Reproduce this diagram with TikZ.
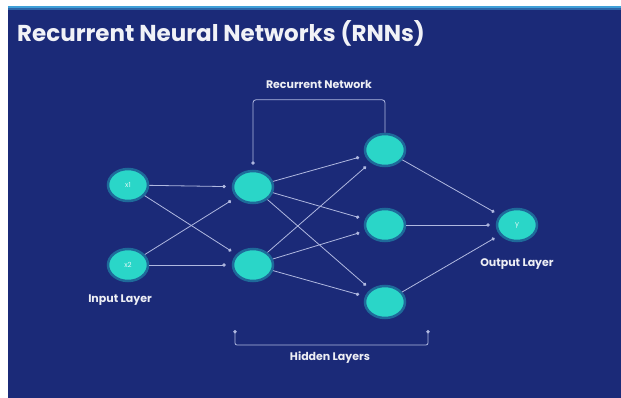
\documentclass[tikz,border=0pt]{standalone}
\usepackage{fontspec}
\setmainfont{Poppins}
\usetikzlibrary{arrows.meta,shapes.geometric}
\definecolor{bg}{HTML}{1B2A78}
\definecolor{topline}{HTML}{3FA0D8}
\definecolor{nodefill}{HTML}{2AD6C8}
\definecolor{glow}{HTML}{1E6A9A}
\definecolor{wire}{HTML}{B0B8E0}
\begin{document}
\begin{tikzpicture}[x=1pt,y=-1pt,
  neuron/.style={ellipse, minimum width=40pt, minimum height=32pt, fill=nodefill, draw=glow, line width=2.5pt, inner sep=0pt, text=white!85!nodefill, font=\fontsize{7}{8}\selectfont},
  conn/.style={draw=wire, line width=0.8pt, -{Circle[length=3.4pt]}, shorten >=6pt},
  lbl/.style={text=white!92!bg, font=\fontsize{11}{12}\selectfont\bfseries}]
\useasboundingbox (0,0) rectangle (621,398);
\fill[white] (0,0) rectangle (621,398);
\fill[bg] (8,6) rectangle (621,398);
\fill[topline] (8,6) rectangle (621,8.5);
\fill[topline!50!bg] (8,8.5) rectangle (621,10);
\node[anchor=west, inner sep=0pt, text=white!94!bg, font=\fontsize{23}{25}\selectfont\bfseries] (title) at (17,33) {Recurrent Neural Networks (RNNs)};

\node[neuron] (x1) at (128,185) {x1};
\node[neuron] (x2) at (128,265) {x2};
\node[neuron] (ha) at (253,187) {};
\node[neuron] (hb) at (253,265) {};
\node[neuron] (ga) at (385,150) {};
\node[neuron] (gb) at (385,225) {};
\node[neuron] (gc) at (385,302) {};
\node[neuron] (y) at (517,225) {y};

\foreach \s in {x1,x2}{\foreach \t in {ha,hb}{\draw[conn] (\s) -- (\t);}}
\foreach \s in {ha,hb}{\foreach \t in {ga,gb,gc}{\draw[conn] (\s) -- (\t);}}
\foreach \s in {ga,gb,gc}{\draw[conn] (\s) -- (y);}

\draw[wire, line width=0.8pt, rounded corners=3pt, -{Circle[length=3.4pt]}, shorten >=5pt] (ga.north) -- ++(0,-33) -| (ha.north);

\coordinate (bl) at (235,330);
\coordinate (br) at (428,330);
\draw[wire, line width=0.8pt, rounded corners=2pt, {Circle[length=3.4pt]}-{Circle[length=3.4pt]}] (bl) -- (235,345) -- (428,345) -- (br);

\node[lbl] (rn) at (319,84) {Recurrent Network};
\node[lbl] (il) at (120,300) {Input Layer};
\node[lbl] (ol) at (517,264) {Output Layer};
\node[lbl] (hl) at (330,358) {Hidden Layers};
\end{tikzpicture}
\end{document}
